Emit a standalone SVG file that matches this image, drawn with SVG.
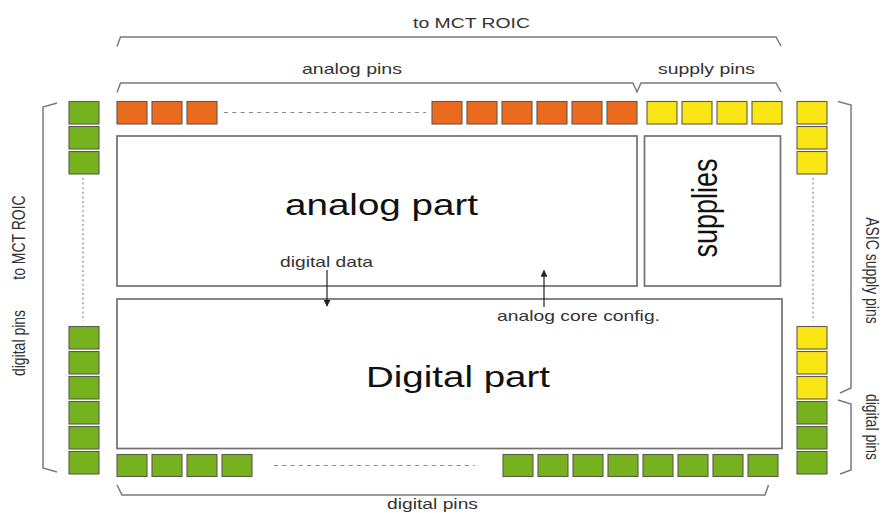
<svg xmlns="http://www.w3.org/2000/svg" width="892" height="513" viewBox="0 0 892 513">
<style>
.pin{stroke:#5e5a50;stroke-width:1.1}
.o{fill:#EA6A1E}
.g{fill:#76B11E}
.y{fill:#FBE615}
.box{fill:#fff;stroke:#707070;stroke-width:1.7}
.br{fill:none;stroke:#7a7a7a;stroke-width:1.5}
.dh{stroke:#8a8a8a;stroke-width:1.2;stroke-dasharray:4 4.3}
.dv{stroke:#8a8a8a;stroke-width:1.2;stroke-dasharray:2 2.6}
.t{font-family:"Liberation Sans",Arial,sans-serif;fill:#333;font-size:15px}
.tv{font-family:"Liberation Sans",Arial,sans-serif;fill:#333;font-size:14px}
.big{font-family:"Liberation Sans",Arial,sans-serif;fill:#111;font-size:29px}
.ar{stroke:#222;stroke-width:1.2;fill:none}
</style>
<defs>
<marker id="ah" viewBox="0 0 10 10" refX="9" refY="5" markerWidth="7" markerHeight="7" markerUnits="userSpaceOnUse" orient="auto"><path d="M0,0 L10,5 L0,10 z" fill="#222"/></marker>
</defs>
<rect width="892" height="513" fill="#fff"/>

<g id="analog-part">
<rect class="box" x="117" y="136" width="520" height="150"/>
<text class="big" x="285" y="215" textLength="193" lengthAdjust="spacingAndGlyphs">analog part</text>
</g>
<g id="supplies">
<rect class="box" x="644.5" y="136" width="136" height="150"/>
<text class="big" transform="translate(716.5,208) scale(1.29,1) rotate(-90)" text-anchor="middle" style="font-size:27px">supplies</text>
</g>
<g id="digital-part">
<rect class="box" x="117" y="299" width="665" height="149.5"/>
<text class="big" x="366" y="386.5" textLength="184" lengthAdjust="spacingAndGlyphs">Digital part</text>
</g>

<g id="top-pins">
<rect class="pin o" x="117" y="101.5" width="30" height="22.5"/>
<rect class="pin o" x="152" y="101.5" width="30" height="22.5"/>
<rect class="pin o" x="187" y="101.5" width="30" height="22.5"/>
<rect class="pin o" x="432" y="101.5" width="30" height="22.5"/>
<rect class="pin o" x="467" y="101.5" width="30" height="22.5"/>
<rect class="pin o" x="502" y="101.5" width="30" height="22.5"/>
<rect class="pin o" x="537" y="101.5" width="30" height="22.5"/>
<rect class="pin o" x="572" y="101.5" width="30" height="22.5"/>
<rect class="pin o" x="607" y="101.5" width="30" height="22.5"/>
<rect class="pin y" x="647" y="101.5" width="30" height="22.5"/>
<rect class="pin y" x="682" y="101.5" width="30" height="22.5"/>
<rect class="pin y" x="717" y="101.5" width="30" height="22.5"/>
<rect class="pin y" x="752" y="101.5" width="30" height="22.5"/>
<line class="dh" x1="224" y1="112.5" x2="426" y2="112.5"/>
</g>

<g id="left-pins">
<rect class="pin g" x="69" y="101.5" width="30" height="22.5"/>
<rect class="pin g" x="69" y="126.5" width="30" height="22.5"/>
<rect class="pin g" x="69" y="151.5" width="30" height="22.5"/>
<rect class="pin g" x="69" y="326.5" width="30" height="22.5"/>
<rect class="pin g" x="69" y="351.5" width="30" height="22.5"/>
<rect class="pin g" x="69" y="376.5" width="30" height="22.5"/>
<rect class="pin g" x="69" y="401.5" width="30" height="22.5"/>
<rect class="pin g" x="69" y="426.5" width="30" height="22.5"/>
<rect class="pin g" x="69" y="451.5" width="30" height="22.5"/>
<line class="dv" x1="83" y1="178" x2="83" y2="321"/>
</g>

<g id="right-pins">
<rect class="pin y" x="797" y="101.5" width="30" height="22.5"/>
<rect class="pin y" x="797" y="126.5" width="30" height="22.5"/>
<rect class="pin y" x="797" y="151.5" width="30" height="22.5"/>
<rect class="pin y" x="797" y="326.5" width="30" height="22.5"/>
<rect class="pin y" x="797" y="351.5" width="30" height="22.5"/>
<rect class="pin y" x="797" y="376.5" width="30" height="22.5"/>
<rect class="pin g" x="797" y="401.5" width="30" height="22.5"/>
<rect class="pin g" x="797" y="426.5" width="30" height="22.5"/>
<rect class="pin g" x="797" y="451.5" width="30" height="22.5"/>
<line class="dv" x1="813" y1="178" x2="813" y2="321"/>
</g>

<g id="bottom-pins">
<rect class="pin g" x="117" y="454.5" width="30" height="22"/>
<rect class="pin g" x="152" y="454.5" width="30" height="22"/>
<rect class="pin g" x="187" y="454.5" width="30" height="22"/>
<rect class="pin g" x="222" y="454.5" width="30" height="22"/>
<rect class="pin g" x="503" y="454.5" width="30" height="22"/>
<rect class="pin g" x="538" y="454.5" width="30" height="22"/>
<rect class="pin g" x="573" y="454.5" width="30" height="22"/>
<rect class="pin g" x="608" y="454.5" width="30" height="22"/>
<rect class="pin g" x="643" y="454.5" width="30" height="22"/>
<rect class="pin g" x="678" y="454.5" width="30" height="22"/>
<rect class="pin g" x="713" y="454.5" width="30" height="22"/>
<rect class="pin g" x="748" y="454.5" width="30" height="22"/>
<line class="dh" x1="274" y1="465.5" x2="475" y2="465.5"/>
</g>

<g id="brackets">
<path class="br" d="M117,46.5 L120.5,37 L776,37 L781,46"/>
<path class="br" d="M117,92.5 L120.5,83 L633,83 L637,92 L641,83 L776,83 L781,92"/>
<path class="br" d="M117,485 L122,495 L765,495 L768.5,485"/>
<path class="br" d="M57,103 L43,107 L43,468 L57,472"/>
<path class="br" d="M838,101.5 L851,105 L851,388 L840,393"/>
<path class="br" d="M838,400 L851,404 L851,470 L840,474"/>
</g>

<g id="labels">
<text class="t" x="413" y="28" textLength="117" lengthAdjust="spacingAndGlyphs">to MCT ROIC</text>
<text class="t" x="302" y="74" textLength="100" lengthAdjust="spacingAndGlyphs">analog pins</text>
<text class="t" x="658" y="74" textLength="97" lengthAdjust="spacingAndGlyphs">supply pins</text>
<text class="t" x="387" y="509" textLength="91" lengthAdjust="spacingAndGlyphs">digital pins</text>
<text class="t" x="280" y="267" textLength="93" lengthAdjust="spacingAndGlyphs">digital data</text>
<text class="t" x="497" y="320.5" textLength="163" lengthAdjust="spacingAndGlyphs">analog core config.</text>
<text class="tv" transform="translate(25,237.5) scale(1.29,1) rotate(-90)" text-anchor="middle">to MCT ROIC</text>
<text class="tv" transform="translate(25,343) scale(1.29,1) rotate(-90)" text-anchor="middle">digital pins</text>
<text class="tv" transform="translate(865.5,270.5) scale(1.29,1) rotate(90)" text-anchor="middle">ASIC supply pins</text>
<text class="tv" transform="translate(865.5,427) scale(1.29,1) rotate(90)" text-anchor="middle">digital pins</text>
</g>

<g id="connectors">
<line class="ar" x1="327" y1="270" x2="327" y2="306" marker-end="url(#ah)"/>
<line class="ar" x1="544" y1="307" x2="544" y2="270.5" marker-end="url(#ah)"/>
</g>
</svg>
